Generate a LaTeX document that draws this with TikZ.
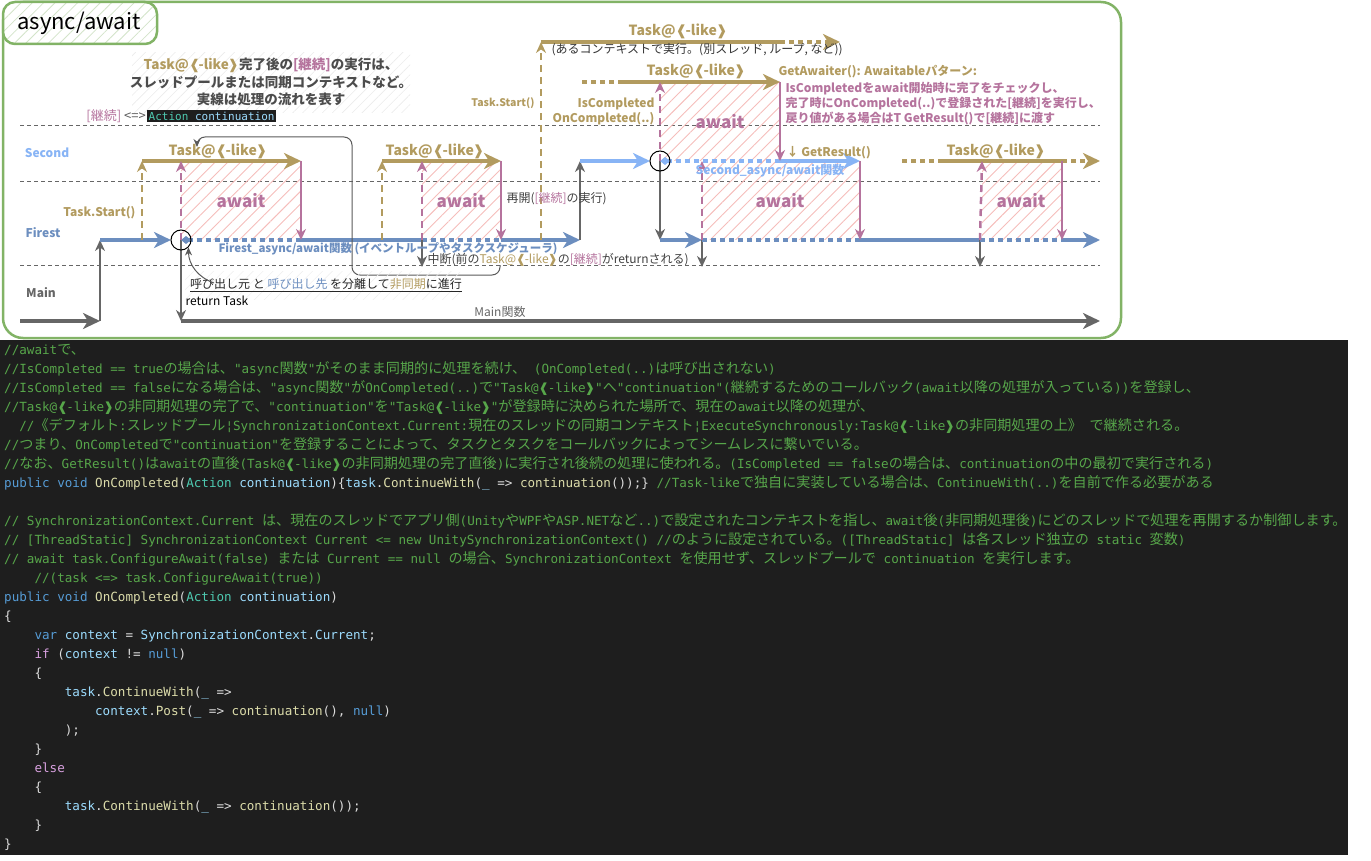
\documentclass[tikz,border=0pt]{standalone}
\usepackage{fontspec}
\setmainfont{Noto Sans CJK JP}
\newfontfamily\cjkcode[Scale=1.12]{Noto Sans CJK JP}
\newfontfamily\dejavu{DejaVu Sans}
\newfontfamily\codemono{DejaVu Sans Mono}
\usetikzlibrary{arrows.meta,patterns.meta}

\definecolor{gold}{HTML}{B29B5F}
\definecolor{pinkc}{HTML}{B5739D}
\definecolor{hatchc}{HTML}{F5BDBB}
\definecolor{firstc}{HTML}{6C8EBF}
\definecolor{secondc}{HTML}{88B4F5}
\definecolor{mainc}{HTML}{666666}
\definecolor{framec}{HTML}{82B366}
\definecolor{codebg}{HTML}{1E1E1E}
\definecolor{cmt}{HTML}{57A64A}
\definecolor{kw}{HTML}{569CD6}
\definecolor{fnc}{HTML}{DCDCAA}
\definecolor{ty}{HTML}{4EC9B0}
\definecolor{pv}{HTML}{9CDCFE}
\definecolor{ctl}{HTML}{D8A0DF}
\definecolor{pun}{HTML}{DCDCDC}

% CJK runs get their own font inside the code listing
\XeTeXinterchartokenstate=1
\chardef\cjkcls=50
\newcount\cjkc
\cjkc="3000
\loop\XeTeXcharclass\cjkc=\cjkcls \advance\cjkc by 1 \ifnum\cjkc<"A000 \repeat
\cjkc="FF00
\loop\XeTeXcharclass\cjkc=\cjkcls \advance\cjkc by 1 \ifnum\cjkc<"FFF0 \repeat
\let\cjkswitch\relax
\XeTeXinterchartoks 0 \cjkcls = {\begingroup\cjkswitch}
\XeTeXinterchartoks 1 \cjkcls = {\begingroup\cjkswitch}
\XeTeXinterchartoks 2 \cjkcls = {\begingroup\cjkswitch}
\XeTeXinterchartoks 3 \cjkcls = {\begingroup\cjkswitch}
\XeTeXinterchartoks 4095 \cjkcls = {\begingroup\cjkswitch}
\XeTeXinterchartoks \cjkcls 0 = {\endgroup}
\XeTeXinterchartoks \cjkcls 1 = {\endgroup}
\XeTeXinterchartoks \cjkcls 2 = {\endgroup}
\XeTeXinterchartoks \cjkcls 3 = {\endgroup}
\XeTeXinterchartoks \cjkcls 4095 = {\endgroup}

\newcommand\tasklike{Task@{\dejavu ❰}\kern-0.12em-like\kern-0.08em{\dejavu ❱}}
\newlength\codew \setlength\codew{7.58pt}
\newcommand\codeind[1]{\hspace*{#1\codew}}

\begin{document}
\begin{tikzpicture}[x=1pt,y=-1pt,
  lane/.style={draw=black!60, dash pattern=on 4pt off 3pt, line width=0.7pt},
  flow/.style={line width=4pt, -{Stealth[length=17pt,width=16pt,inset=5pt]}},
  flowdot/.style={line width=4pt, dash pattern=on 5pt off 4pt},
  jumpln/.style={draw=mainc, line width=2pt, -{Stealth[length=11pt,width=10pt]}},
  startln/.style={draw=gold, line width=2.5pt, dash pattern=on 7pt off 5pt, -{Stealth[length=11pt,width=10pt]}},
  awaitln/.style={draw=pinkc, line width=2.5pt, dash pattern=on 7pt off 5pt, -{Stealth[length=11pt,width=10pt]}},
  resumeln/.style={draw=pinkc, line width=2pt, -{Stealth[length=11pt,width=10pt]}},
  awaitbox/.style={pattern={Lines[angle=45,distance=9pt,line width=0.9pt]}, pattern color=hatchc},
  awaitlbl/.style={text=pinkc, font=\fontsize{17}{17}\selectfont\bfseries},
  tasklbl/.style={text=gold, font=\fontsize{14}{14}\selectfont\bfseries},
  lbl/.style={font=\fontsize{12}{14}\selectfont},
  blbl/.style={font=\fontsize{12}{14}\selectfont\bfseries},
  callmark/.style={draw=black, line width=1pt, circle, minimum size=20pt, inner sep=0pt},
  codeblk/.style={anchor=north west, inner sep=0pt, align=left, text=pun,
    font=\codemono\fontsize{12.6}{19}\selectfont\let\cjkswitch\cjkcode},
]
\useasboundingbox (0,0) rectangle (1371,861);

% code listing background
\fill[codebg] (0,340) rectangle (1348,855);

% frame and title tab
\draw[framec, line width=2.5pt, rounded corners=20pt] (3,2) rectangle (1121,338);
\fill[white, rounded corners=12pt] (3,2) rectangle (157,44);
\fill[pattern={Lines[angle=45,distance=8pt,line width=0.8pt]}, pattern color=framec!35, rounded corners=12pt] (3,2) rectangle (157,44);
\draw[framec, line width=2.5pt, rounded corners=12pt] (3,2) rectangle (157,44);
\node[font=\fontsize{22}{22}\selectfont] (title) at (79,23) {async/await};

% note
\fill[pattern={Lines[angle=45,distance=7pt,line width=0.6pt]}, pattern color=black!8] (132,53) rectangle (410,113);
\node[align=center, text=black!70, font=\fontsize{13.5}{17.5}\selectfont\bfseries] (note) at (271,82)
  {\textcolor{gold}{\tasklike}完了後の\textcolor{pinkc}{[継続]}の実行は、\\スレッドプールまたは同期コンテキストなど。\\実線は処理の流れを表す};
\node[font=\fontsize{13}{14}\selectfont, anchor=east, inner sep=1pt] (eqv) at (147,116) {\textcolor{pinkc}{[継続]} \textcolor{black!65}{<=>}};
\node[fill=codebg, anchor=west, inner sep=1.5pt, font=\codemono\fontsize{11}{11}\selectfont] (act) at (eqv.east)
  {\textcolor{ty}{Action} \textcolor{pv}{continuation}};

% lanes
\draw[lane] (20,125) -- (1100,125);
\draw[lane] (20,181) -- (1100,181);
\draw[lane] (20,265) -- (1100,265);
\node[blbl, text=secondc] (lnSecond) at (47,153) {Second};
\node[blbl, text=firstc] (lnFirst) at (43,233) {Firest};
\node[blbl, text=mainc] (lnMain) at (41,293) {Main};

% junction points
\coordinate (m0) at (20,321); \coordinate (m1) at (100,321); \coordinate (f1) at (100,240);
\coordinate (c1) at (181,240); \coordinate (r1) at (181,321); \coordinate (mEnd) at (1100,321);
\coordinate (t1f) at (142,240); \coordinate (t1s) at (142,161);
\coordinate (a1s) at (181,161); \coordinate (a1e) at (301,161); \coordinate (a1f) at (301,240);
\coordinate (t2f) at (382,240); \coordinate (t2s) at (382,161);
\coordinate (a2f) at (422,240); \coordinate (a2s) at (422,161); \coordinate (a2d) at (422,267);
\coordinate (a2e) at (501,161); \coordinate (a2g) at (501,240);
\coordinate (j1) at (580,240); \coordinate (j1s) at (580,161);
\coordinate (t3f) at (541,240); \coordinate (t3t) at (541,42); \coordinate (t3m) at (780,42); \coordinate (t3e) at (840,42);
\coordinate (t4a) at (582,82); \coordinate (t4b) at (622,82);
\coordinate (c2) at (660,161); \coordinate (c2f) at (660,240); \coordinate (a3t) at (660,82);
\coordinate (a3e) at (780,82); \coordinate (a3s) at (780,161);
\coordinate (f3) at (702,240); \coordinate (f3d) at (702,267); \coordinate (a4s) at (702,161);
\coordinate (a4e) at (860,161); \coordinate (a4f) at (860,240);
\coordinate (f4) at (980,240); \coordinate (f4d) at (980,267); \coordinate (a5s) at (982,161);
\coordinate (a5e) at (1062,161); \coordinate (a5f) at (1062,240); \coordinate (fEnd) at (1100,240);
\coordinate (t5a) at (902,161); \coordinate (t5b) at (942,161); \coordinate (t5e) at (1100,161);

% await areas
\fill[awaitbox] (a1s) rectangle (a1f);
\fill[awaitbox] (a2s) rectangle (a2g);
\fill[awaitbox] (a3t) rectangle (a3s);
\fill[awaitbox] (a4s) rectangle (a4f);
\fill[awaitbox] (a5s) rectangle (a5f);
\node[awaitlbl] (aw1) at (241,201) {await};
\node[awaitlbl] (aw2) at (461,201) {await};
\node[awaitlbl] (aw3) at (720,122) {await};
\node[awaitlbl] (aw4) at (780,201) {await};
\node[awaitlbl] (aw5) at (1021,201) {await};

% Main
\draw[flow, draw=mainc] (m0) -- (m1);
\draw[jumpln] (m1) -- (f1);
\draw[jumpln] (c1) -- (r1);
\draw[flow, draw=mainc] (r1) -- (mEnd);

% Firest
\draw[flow, draw=firstc, shorten >=10pt] (f1) -- (c1);
\draw[flowdot, draw=firstc, {Diamond[length=10pt,width=8pt]}-] (c1) -- (a1f);
\draw[line width=4pt, draw=firstc] (a1f) -- (a2f);
\draw[flowdot, draw=firstc] (a2f) -- (a2g);
\draw[flow, draw=firstc] (a2g) -- (j1);
\draw[jumpln] (j1) -- (j1s);
\draw[jumpln] (a2f) -- (a2d);
\draw[jumpln] (c2) -- (c2f);
\draw[flow, draw=firstc] (c2f) -- (f3);
\draw[jumpln] (f3) -- (f3d);
\draw[flowdot, draw=firstc] (f3) -- (a4f);
\draw[line width=4pt, draw=firstc] (a4f) -- (f4);
\draw[jumpln] (f4) -- (f4d);
\draw[flowdot, draw=firstc] (f4) -- (a5f);
\draw[flow, draw=firstc] (a5f) -- (fEnd);

% Second
\draw[flow, draw=secondc, shorten >=10pt] (j1s) -- (c2);
\draw[flowdot, draw=secondc, {Diamond[length=10pt,width=8pt]}-] (c2) -- (a3s);
\draw[flow, draw=secondc] (a3s) -- (a4e);
\node[callmark] (call1) at (c1) {};
\node[callmark] (call2) at (c2) {};

% Task@(-like)
\draw[startln] (t1f) -- (t1s);
\draw[flow, draw=gold] (t1s) -- (a1e);
\draw[startln] (t2f) -- (t2s);
\draw[flow, draw=gold] (t2s) -- (a2e);
\draw[startln] (t3f) -- (t3t);
\draw[line width=4pt, draw=gold] (t3t) -- (t3m);
\draw[flowdot, draw=gold, -{Stealth[length=17pt,width=16pt,inset=5pt]}] (t3m) -- (t3e);
\draw[flowdot, draw=gold] (t4a) -- (t4b);
\draw[flow, draw=gold] (t4b) -- (a3e);
\draw[flowdot, draw=gold] (t5a) -- (t5b);
\draw[line width=4pt, draw=gold] (t5b) -- (a5e);
\draw[flowdot, draw=gold, -{Stealth[length=17pt,width=16pt,inset=5pt]}] (a5e) -- (t5e);
\node[tasklbl] (tk1) at (218,151) {\tasklike};
\node[tasklbl] (tk2) at (435,151) {\tasklike};
\node[tasklbl] (tk3) at (678,31) {\tasklike};
\node[tasklbl] (tk4) at (696,71) {\tasklike};
\node[tasklbl] (tk5) at (996,151) {\tasklike};

% await in / out
\draw[awaitln] (c1) -- (a1s);
\draw[resumeln] (a1e) -- (a1f);
\draw[awaitln] (a2f) -- (a2s);
\draw[resumeln] (a2e) -- (a2g);
\draw[awaitln] (c2) -- (a3t);
\draw[resumeln] (a3e) -- (a3s);
\draw[awaitln] (f3) -- (a4s);
\draw[resumeln] (a4e) -- (a4f);
\draw[awaitln] (f4) -- (a5s);
\draw[resumeln] (a5e) -- (a5f);

% continuation hand-over
\coordinate (hk0) at (500,265); \coordinate (hk1) at (197,147);
\draw[draw=black!65, line width=1pt, rounded corners=8pt, -{Stealth[length=8pt,width=7pt]}]
  (hk0) -- (500,275) -- (352,275) -- (352,137) -- (197,137) -- (hk1);

% labels
\node[blbl, text=gold, anchor=east] (st1) at (139,213) {Task.Start()};
\node[text=gold, anchor=east, font=\fontsize{10.5}{12}\selectfont\bfseries] (st3) at (538,103) {Task.Start()};
\node[blbl, text=firstc, font=\fontsize{11.5}{13}\selectfont\bfseries] (fname) at (388,249) {Firest\_async/await関数 (イベントループやタスクスケジューラ)};
\node[blbl, text=secondc] (sname) at (770,171) {Second\_async/await関数};
\node[lbl, text=black!75, anchor=west] (pause) at (424,260) {中断(前の\textcolor{gold}{\tasklike}の\textcolor{pinkc}{[継続]}がreturnされる)};
\node[lbl, text=black!75, anchor=west] (resume) at (503,199) {再開(\textcolor{pinkc}{[継続]}の実行)};
\node[lbl, text=black!80, anchor=west] (ctx) at (548,50) {(あるコンテキストで実行。(別スレッド, ループ, など))};
\node[blbl, text=gold, anchor=east] (isc) at (658,104) {IsCompleted};
\node[blbl, text=gold, anchor=east] (onc) at (658,119) {OnCompleted(..)};
\node[blbl, text=gold, anchor=west] (gres) at (783,153) {↓ GetResult()};
\node[blbl, text=gold, anchor=west] (awt) at (775,72) {GetAwaiter(): Awaitableパターン:};
\node[blbl, text=pinkc, anchor=north west, align=left, font=\fontsize{12}{15}\selectfont\bfseries] (awtx) at (782,79)
  {IsCompletedをawait開始時に完了をチェックし、\\完了時にOnCompleted(..)で登録された[継続]を実行し、\\戻り値がある場合はT GetResult()で[継続]に渡す};

% caller / callee
\fill[pattern={Lines[angle=45,distance=7pt,line width=0.6pt]}, pattern color=black!6] (185,271) rectangle (460,299);
\node[lbl, text=black!85] (split) at (326,285)
  {\underline{呼び出し元 と \textcolor{firstc}{呼び出し先} を分離して\textcolor{gold}{非同期}に進行}};
\draw[draw=black!65, line width=1pt, -{Stealth[length=8pt,width=7pt]}] (214,283) to[bend left=35] (call1.south east);
\node[lbl, anchor=west] (ret) at (182,301) {return Task};
\node[lbl, text=mainc] (mainfn) at (500,312) {Main関数};

% listing
\node[codeblk] (code) at (4,344) {%
\textcolor{cmt}{//awaitで、}\\
\textcolor{cmt}{//IsCompleted == trueの場合は、"async関数"がそのまま同期的に処理を続け、 (OnCompleted(..)は呼び出されない)}\\
\textcolor{cmt}{//IsCompleted == falseになる場合は、"async関数"がOnCompleted(..)で"\tasklike"へ"continuation"(継続するためのコールバック(await以降の処理が入っている))を登録し、}\\
\textcolor{cmt}{//\tasklike{}の非同期処理の完了で、"continuation"を"\tasklike"が登録時に決められた場所で、現在のawait以降の処理が、}\\
\textcolor{cmt}{\codeind{2}//《デフォルト:スレッドプール¦SynchronizationContext.Current:現在のスレッドの同期コンテキスト¦ExecuteSynchronously:\tasklike{}の非同期処理の上》 で継続される。}\\
\textcolor{cmt}{//つまり、OnCompletedで"continuation"を登録することによって、タスクとタスクをコールバックによってシームレスに繋いでいる。}\\
\textcolor{cmt}{//なお、GetResult()はawaitの直後(\tasklike{}の非同期処理の完了直後)に実行され後続の処理に使われる。(IsCompleted == falseの場合は、continuationの中の最初で実行される)}\\
\textcolor{kw}{public void} \textcolor{fnc}{OnCompleted}(\textcolor{ty}{Action} \textcolor{pv}{continuation})\{\textcolor{pv}{task}.\textcolor{fnc}{ContinueWith}(\textcolor{pv}{\_} => \textcolor{fnc}{continuation}());\} \textcolor{cmt}{//Task-likeで独自に実装している場合は、ContinueWith(..)を自前で作る必要がある}\\[19pt]
\textcolor{cmt}{// SynchronizationContext.Current は、現在のスレッドでアプリ側(UnityやWPFやASP.NETなど..)で設定されたコンテキストを指し、await後(非同期処理後)にどのスレッドで処理を再開するか制御します。}\\
\textcolor{cmt}{// [ThreadStatic] SynchronizationContext Current <= new UnitySynchronizationContext() //のように設定されている。([ThreadStatic] は各スレッド独立の static 変数)}\\
\textcolor{cmt}{// await task.ConfigureAwait(false) または Current == null の場合、SynchronizationContext を使用せず、スレッドプールで continuation を実行します。}\\
\textcolor{cmt}{\codeind{4}//(task <=> task.ConfigureAwait(true))}\\
\textcolor{kw}{public void} \textcolor{fnc}{OnCompleted}(\textcolor{ty}{Action} \textcolor{pv}{continuation})\\
\{\\
\codeind{4}\textcolor{kw}{var} \textcolor{pv}{context} = \textcolor{pv}{SynchronizationContext}.\textcolor{pv}{Current};\\
\codeind{4}\textcolor{ctl}{if} (\textcolor{pv}{context} != \textcolor{kw}{null})\\
\codeind{4}\{\\
\codeind{8}\textcolor{pv}{task}.\textcolor{fnc}{ContinueWith}(\textcolor{pv}{\_} =>\\
\codeind{12}\textcolor{pv}{context}.\textcolor{fnc}{Post}(\textcolor{pv}{\_} => \textcolor{fnc}{continuation}(), \textcolor{kw}{null})\\
\codeind{8});\\
\codeind{4}\}\\
\codeind{4}\textcolor{ctl}{else}\\
\codeind{4}\{\\
\codeind{8}\textcolor{pv}{task}.\textcolor{fnc}{ContinueWith}(\textcolor{pv}{\_} => \textcolor{fnc}{continuation}());\\
\codeind{4}\}\\
\}};
\end{tikzpicture}
\end{document}
